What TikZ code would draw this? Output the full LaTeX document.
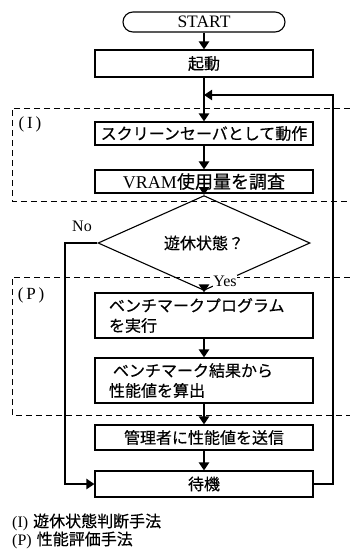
\documentclass[tikz,border=0pt]{standalone}
\usepackage{fontspec}
\setmainfont{Liberation Serif}
\newfontfamily\cjk[FakeBold=0.4]{Noto Sans CJK JP}
\usetikzlibrary{arrows.meta,shapes.geometric}
\begin{document}
\begin{tikzpicture}[x=1pt,y=-1pt,
  box/.style={draw,line width=1.1pt,minimum width=218pt,inner sep=0pt},
  flow/.style={line width=2.4pt,-{Triangle[length=8pt,width=10pt]}},
  region/.style={dash pattern=on 6pt off 4pt,line width=0.9pt},
  jp/.style={font=\cjk\fontsize{16}{20}\selectfont},
  lat/.style={font=\fontsize{16}{18}\selectfont,inner sep=0pt},
  ]
\useasboundingbox (0,0) rectangle (350,555);
% regions
\draw[region] (350,108) -- (12,108) -- (12,201) -- (350,201);
\draw[region] (350,277) -- (12,277) -- (12,415) -- (350,415);
\node[lat,font=\fontsize{17}{18}\selectfont] (labI) at (30,124) {(\,I\,)};
\node[lat,font=\fontsize{17}{18}\selectfont] (labP) at (31,295) {(\,P\,)};
% nodes
\node[box,rounded corners=10pt,minimum width=162pt,minimum height=20pt,font=\fontsize{17.5}{17}\selectfont] (start) at (204,22) {START};
\node[box,minimum height=27pt,jp] (boot) at (204,63.5) {起動};
\node[box,minimum height=23pt,jp] (ss) at (204,133.5) {スクリーンセーバとして動作};
\node[box,minimum height=23pt] (vram) at (204,181.5) {\fontsize{18}{18}\selectfont VRAM{\cjk 使用量を調査}};
\node[draw,diamond,line width=1.1pt,minimum width=212pt,minimum height=60pt,inner sep=0pt,jp] (idle) at (204,243) {遊休状態？};
\node[box,minimum height=45pt,jp,align=left,text width=190pt] (bench) at (204,315.5) {ベンチマークプログラム\\を実行};
\node[box,minimum height=45pt,jp,align=left,text width=190pt] (calc) at (204,380.5) {\hspace{4pt}ベンチマーク結果から\\性能値を算出};
\node[box,minimum height=25pt,jp] (send) at (204,437.5) {管理者に性能値を送信};
\node[box,minimum height=26pt,jp] (wait) at (204,484) {待機};
\node[lat] (no) at (82,226) {No};
\node[lat,fill=white,inner sep=0.5pt] (yes) at (225,281) {Yes};
% coordinates
\coordinate (merge) at (204,95);
\coordinate (rt) at (333,95);
\coordinate (rb) at (333,484);
\coordinate (lt) at (65,243);
\coordinate (lb) at (65,484);
% connectors
\draw[flow] (start) -- (boot);
\draw[flow] (boot) -- (ss);
\draw[flow] (wait.east) -- (rb) -- (rt) -- (merge);
\draw[flow] (ss) -- (vram);
\draw[flow] (vram) -- (idle.north);
\draw[flow] (idle.south) -- (bench);
\draw[flow] (idle.west) -- (lt) -- (lb) -- (wait.west);
\draw[flow] (bench) -- (calc);
\draw[flow] (calc) -- (send);
\draw[flow] (send) -- (wait);
% legend
\node[anchor=west,font=\fontsize{16}{16}\selectfont,inner sep=0pt] (legI) at (12,522) {(I)\hspace{5pt}{\cjk 遊休状態判断手法}};
\node[anchor=west,font=\fontsize{16}{16}\selectfont,inner sep=0pt] (legP) at (12,540) {(P)\hspace{5pt}{\cjk 性能評価手法}};
\end{tikzpicture}
\end{document}
